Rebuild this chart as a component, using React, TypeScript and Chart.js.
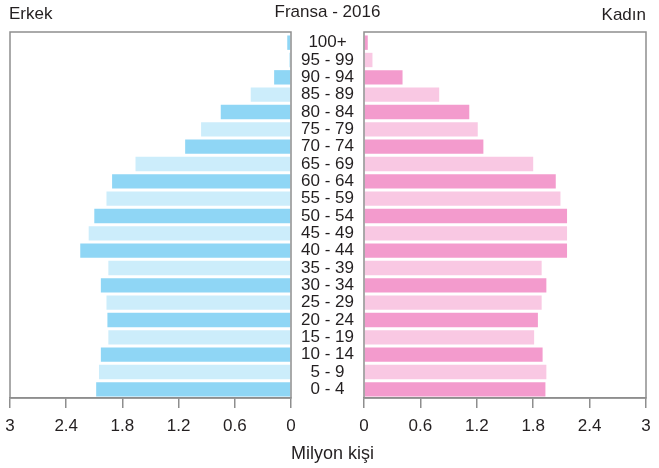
import React, { useEffect, useRef } from "react";
import { Chart, registerables } from "chart.js";

Chart.register(...registerables);

const ageGroups = [
  "100+", "95 - 99", "90 - 94", "85 - 89", "80 - 84", "75 - 79", "70 - 74",
  "65 - 69", "60 - 64", "55 - 59", "50 - 54", "45 - 49", "40 - 44", "35 - 39",
  "30 - 34", "25 - 29", "20 - 24", "15 - 19", "10 - 14", "5 - 9", "0 - 4",
];
const maleValues = [
  0.04, 0.02, 0.18, 0.43, 0.75, 0.96, 1.13, 1.66, 1.91, 1.97, 2.1, 2.16, 2.25,
  1.95, 2.03, 1.97, 1.96, 1.95, 2.03, 2.05, 2.08,
];
const femaleValues = [
  0.04, 0.09, 0.41, 0.8, 1.12, 1.21, 1.27, 1.8, 2.04, 2.09, 2.16, 2.16, 2.16,
  1.89, 1.94, 1.89, 1.85, 1.81, 1.9, 1.94, 1.93,
];
const xTicks = [0, 0.6, 1.2, 1.8, 2.4, 3];
const titleText = "Fransa - 2016";
const maleLabel = "Erkek";
const femaleLabel = "Kadın";
const axisTitle = "Milyon kişi";

const FONT = "'Liberation Sans', Arial, sans-serif";
const TEXT = "#231f20";
const GRAY = "#8e8e8e";
const maleColors = ageGroups.map((_, i) => (i % 2 === 0 ? "#8fd6f5" : "#ccedfb"));
const femaleColors = ageGroups.map((_, i) => (i % 2 === 0 ? "#f39bcd" : "#f9c8e3"));

const framePlugin = {
  id: "frame",
  afterDraw(chart: any) {
    const { ctx, chartArea } = chart;
    ctx.save();
    ctx.strokeStyle = GRAY;
    ctx.lineWidth = 1.5;
    const top = chartArea.top - 2;
    ctx.strokeRect(chartArea.left, top, chartArea.right - chartArea.left, chartArea.bottom - top);
    ctx.restore();
  },
};

function xScale(reverse: boolean) {
  return {
    type: "linear" as const,
    min: 0,
    max: 3,
    reverse,
    afterBuildTicks(scale: any) {
      scale.ticks = xTicks.map((v) => ({ value: v }));
    },
    afterFit(scale: any) {
      scale.height = 70;
    },
    grid: {
      drawOnChartArea: false,
      drawTicks: true,
      tickLength: 10,
      color: GRAY,
      lineWidth: 1.5,
    },
    border: { display: true, color: GRAY, width: 1.5 },
    ticks: {
      color: TEXT,
      font: { family: FONT, size: 17 },
      padding: 8,
      maxRotation: 0,
      autoSkip: false,
      callback: (v: any) => String(v),
    },
  };
}

export default function App() {
  const leftRef = useRef<HTMLCanvasElement>(null);
  const rightRef = useRef<HTMLCanvasElement>(null);

  useEffect(() => {
    const left = new Chart(leftRef.current!, {
      type: "bar",
      data: {
        labels: ageGroups,
        datasets: [
          {
            label: maleLabel,
            data: maleValues,
            backgroundColor: maleColors,
            borderWidth: 0,
            categoryPercentage: 1,
            barPercentage: 0.83,
          },
        ],
      },
      options: {
        indexAxis: "y",
        animation: false,
        responsive: false,
        maintainAspectRatio: false,
        layout: { padding: { left: 10, right: 9, top: 34, bottom: 0 } },
        plugins: { legend: { display: false }, tooltip: { enabled: false }, title: { display: false } },
        scales: {
          x: xScale(true) as any,
          y: { display: false },
        },
      },
      plugins: [framePlugin],
    });

    const right = new Chart(rightRef.current!, {
      type: "bar",
      data: {
        labels: ageGroups,
        datasets: [
          {
            label: femaleLabel,
            data: femaleValues,
            backgroundColor: femaleColors,
            borderWidth: 0,
            categoryPercentage: 1,
            barPercentage: 0.83,
          },
        ],
      },
      options: {
        indexAxis: "y",
        animation: false,
        responsive: false,
        maintainAspectRatio: false,
        layout: { padding: { left: 0, right: 13, top: 34, bottom: 0 } },
        plugins: { legend: { display: false }, tooltip: { enabled: false }, title: { display: false } },
        scales: {
          x: xScale(false) as any,
          y: {
            position: "left",
            afterFit(scale: any) {
              scale.width = 73;
            },
            grid: { display: false, drawTicks: false },
            border: { display: false },
            ticks: {
              color: TEXT,
              font: { family: FONT, size: 17 },
              crossAlign: "center",
              padding: 10,
              autoSkip: false,
            },
          },
        },
      },
      plugins: [framePlugin],
    });

    return () => {
      left.destroy();
      right.destroy();
    };
  }, []);

  const textStyle: React.CSSProperties = {
    position: "absolute",
    fontFamily: FONT,
    fontSize: 17,
    color: TEXT,
    whiteSpace: "nowrap",
    lineHeight: "20px",
  };

  return (
    <div style={{ position: "fixed", left: 0, top: 0, width: 659, height: 468, background: "#fff", overflow: "hidden" }}>
      <canvas ref={leftRef} width={300} height={468} style={{ position: "absolute", left: 0, top: 0 }} />
      <canvas ref={rightRef} width={368} height={468} style={{ position: "absolute", left: 291, top: 0 }} />
      <div style={{ ...textStyle, left: 9, top: 4 }}>{maleLabel}</div>
      <div style={{ ...textStyle, left: 0, width: 659, top: 2, textAlign: "center" }}>
        <span style={{ position: "relative", left: -2 }}>{titleText}</span>
      </div>
      <div style={{ ...textStyle, right: 13, top: 5 }}>{femaleLabel}</div>
      <div style={{ ...textStyle, left: 0, width: 659, top: 443, textAlign: "center", fontSize: 18 }}>
        <span style={{ position: "relative", left: 3 }}>{axisTitle}</span>
      </div>
    </div>
  );
}
